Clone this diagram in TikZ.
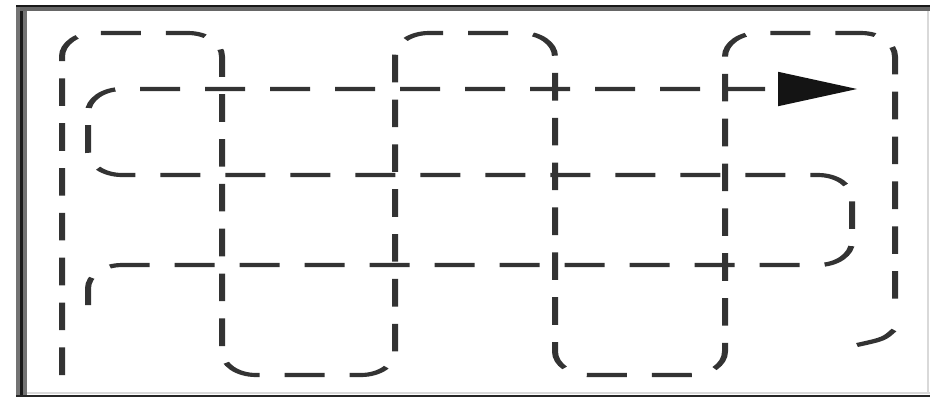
\documentclass[tikz,border=0pt]{standalone}
\usetikzlibrary{arrows.meta}
\begin{document}
\begin{tikzpicture}[x=1pt,y=-1pt]
\useasboundingbox (0,0) rectangle (930,397);
\fill[white] (0,0) rectangle (930,397);
% frame
\fill[black!55] (16,5) rectangle (20,397);
\fill[black!90] (20,5) rectangle (23,397);
\fill[black!55] (23,7) rectangle (27,397);
\fill[black!90] (16,5) rectangle (930,7);
\fill[black!60] (20,7) rectangle (930,11);
\fill[black!15] (27,392) rectangle (930,394);
\fill[black!85] (16,395) rectangle (930,397);
\fill[black!15] (927,11) rectangle (929,394);
\tikzset{serp/.style={line width=6pt, draw=black!80, dash pattern=on 40pt off 25pt, rounded corners=34pt}}
\begin{scope}[x=1pt, y=-1.4493pt, transform canvas={yscale=0.69}]
\draw[serp] (62,375) -- (62,33) -- (222,33) -- (222,375) -- (395,375) -- (395,33)
  -- (555,33) -- (555,375) -- (725,375) -- (725,33) -- (895,33) -- (895,311);
\draw[line width=6pt, draw=black!80] (894,330) .. controls (884,339) .. (857,345);
\draw[serp, -{Triangle[length=79pt,width=50pt,line width=0pt,fill=black!92]}] (88,305) -- (88,265)
  -- (852,265) -- (852,175) -- (88,175) -- (88,89) -- (857,89);
\end{scope}
\end{tikzpicture}
\end{document}
